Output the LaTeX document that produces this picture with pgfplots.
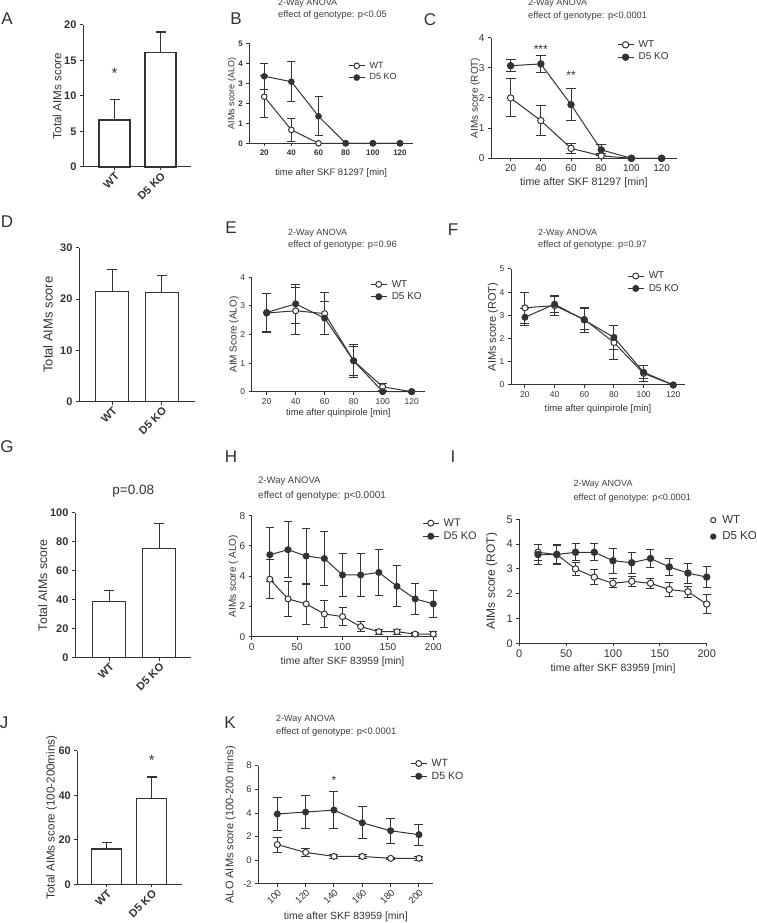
\documentclass[border=0pt]{standalone}
\usepackage{pgfplots}
\pgfplotsset{compat=1.18}
\usepackage{fontspec}
\setmainfont{Liberation Sans}
\definecolor{dk}{HTML}{333333}
\newcommand\fs[1]{\fontsize{#1}{#1}\selectfont}
\pgfplotsset{
  base/.style={scale only axis, anchor=south west, axis lines*=left, clip=false,
    axis line style={line width=1pt, draw=dk}, every tick/.style={line width=1pt, draw=dk},
    tick align=outside, major tick length=3pt, minor tick num=0,
    /pgf/number format/assume math mode=true,
    ylabel style={anchor=center}, xlabel style={anchor=center},
    legend style={draw=none, fill=none, inner sep=0pt, row sep=1pt, column sep=3pt, anchor=north west, nodes={inner sep=1.5pt}},
    legend cell align=left,
    legend image code/.code={\draw[mark repeat=2,mark phase=2,##1] plot coordinates {(0pt,0pt) (8pt,0pt) (16pt,0pt)};}},
  barax/.style={base, ymin=0, xtick={0,1}, xticklabels={WT, D5 KO},
    xticklabel style={rotate=45, anchor=north east, inner sep=1pt, font=\bfseries\fs{11}},
    yticklabel style={font=\bfseries\fs{11}}},
  bars/.style={ybar, bar width=#1, fill=white, draw=dk, line width=1.3pt,
    error bars/.cd, y dir=plus, y explicit, error bar style={line width=1.3pt, draw=dk}, error mark options={rotate=90, line width=1.3pt, draw=dk, mark size=5pt}},
  wt/.style={draw=dk, line width=1pt, mark=*, mark size=#1, mark options={fill=white, draw=dk, solid, line width=1pt}},
  wt/.default=3pt,
  ko/.style={draw=dk, line width=1pt, mark=*, mark size=#1, mark options={fill=dk, draw=dk, solid, line width=1pt}},
  ko/.default=3pt,
  eb/.style={forget plot, draw=none, mark=none, error bars/.cd, y dir=both, y explicit,
    error bar style={line width=1pt, draw=dk}, error mark options={rotate=90, line width=1pt, draw=dk, mark size=#1}},
  eb/.default=4pt,
}
\begin{document}
\color{dk}
\begin{tikzpicture}[x=1pt,y=1pt]
\path[use as bounding box] (0,0) rectangle (757,923);

% ---------- A ----------
\begin{axis}[barax, at={(83pt,756pt)}, width=108pt, height=142pt, xmin=-0.685, xmax=1.663, ymax=20, ytick={0,5,...,20},
  ylabel={Total AIMs score}, ylabel style={at={(axis description cs:-0.24,0.5)}, font=\fs{11.7}}]
\addplot[bars=31pt] coordinates {(0,6.6) +- (0,2.9) (1,16.1) +- (0,2.9)};
\node[font=\fs{15}] at (axis cs:0,13.2) {*};
\end{axis}

% ---------- B ----------
\begin{axis}[base, at={(249.3pt,779.7pt)}, width=163.7pt, height=100pt, xmin=9, xmax=129.6, ymin=0, ymax=5,
  xtick={20,40,...,120}, ytick={0,1,...,5}, tick label style={font=\bfseries\fs{8}},
  ylabel={AIMs score (ALO)}, xlabel={time after SKF 81297 [min]},
  ylabel style={at={(axis description cs:-0.105,0.5)}, font=\fs{9}},
  xlabel style={at={(axis description cs:0.5,-0.297)}, font=\fs{9.4}},
  legend style={at={(0.603,0.83)}, font=\fs{9}}]
\addplot[eb=4pt] table[row sep=\\, y error index=2] {20 2.33 1.05\\ 40 0.67 0.57\\};
\addplot[wt=2.8pt] table[row sep=\\] {20 2.33\\ 40 0.67\\ 60 0\\ 80 0\\ 100 0\\ 120 0\\};
\addlegendentry{WT}
\addplot[eb=4pt] table[row sep=\\, y error index=2] {20 3.35 0.65\\ 40 3.08 1.0\\ 60 1.35 0.97\\};
\addplot[ko=2.8pt] table[row sep=\\] {20 3.35\\ 40 3.08\\ 60 1.35\\ 80 0\\ 100 0\\ 120 0\\};
\addlegendentry{D5 KO}
\end{axis}

% ---------- C ----------
\begin{axis}[base, at={(491pt,764.7pt)}, width=185.7pt, height=120.6pt, xmin=7, xmax=130, ymin=0, ymax=4,
  xtick={20,40,...,120}, ytick={0,1,...,4}, tick label style={font=\fs{10}},
  ylabel={AIMs score (ROT)}, xlabel={time after SKF 81297 [min]},
  ylabel style={at={(axis description cs:-0.085,0.5)}, font=\fs{10}},
  xlabel style={at={(axis description cs:0.5,-0.205)}, font=\fs{10.7}},
  legend style={at={(0.678,0.99)}, font=\fs{10}}]
\addplot[eb=5pt] table[row sep=\\, y error index=2] {20 2.0 0.63\\ 40 1.25 0.5\\ 60 0.33 0.17\\ 80 0.08 0.08\\};
\addplot[wt=3.2pt] table[row sep=\\] {20 2.0\\ 40 1.25\\ 60 0.33\\ 80 0.08\\ 100 0\\ 120 0\\};
\addlegendentry{WT}
\addplot[eb=5pt] table[row sep=\\, y error index=2] {20 3.07 0.2\\ 40 3.13 0.28\\ 60 1.78 0.53\\ 80 0.28 0.18\\};
\addplot[ko=3.2pt] table[row sep=\\] {20 3.07\\ 40 3.13\\ 60 1.78\\ 80 0.28\\ 100 0\\ 120 0\\};
\addlegendentry{D5 KO}
\node[font=\fs{12}] at (axis cs:40,3.62) {***};
\node[font=\fs{12}] at (axis cs:60,2.75) {**};
\end{axis}

% ---------- D ----------
\begin{axis}[barax, at={(79pt,521.3pt)}, width=116pt, height=154pt, xmin=-0.674, xmax=1.674, ymax=30, ytick={0,10,20,30},
  ylabel={Total AIMs score}, ylabel style={at={(axis description cs:-0.267,0.5)}, font=\fs{13}}]
\addplot[bars=33pt] coordinates {(0,21.4) +- (0,4.4) (1,21.3) +- (0,3.3)};
\end{axis}

% ---------- E ----------
\begin{axis}[base, at={(251.7pt,531.3pt)}, width=173.3pt, height=114.4pt, xmin=9.7, xmax=129.2, ymin=0, ymax=4,
  xtick={20,40,...,120}, ytick={0,1,...,4}, tick label style={font=\fs{8.5}},
  ylabel={AIM Score (ALO)}, xlabel={time after quinpirole [min]},
  ylabel style={at={(axis description cs:-0.102,0.5)}, font=\fs{10}},
  xlabel style={at={(axis description cs:0.5,-0.186)}, font=\fs{9.3}},
  legend style={at={(0.683,0.99)}, font=\fs{10}}]
\addplot[eb=4.5pt] table[row sep=\\, y error index=2] {20 2.75 0.68\\ 40 2.83 0.82\\ 60 2.73 0.73\\ 80 1.08 0.5\\ 100 0.17 0.12\\};
\addplot[wt=3pt] table[row sep=\\] {20 2.75\\ 40 2.83\\ 60 2.73\\ 80 1.08\\ 100 0.17\\ 120 0\\};
\addlegendentry{WT}
\addplot[eb=4.5pt] table[row sep=\\, y error index=2] {20 2.77 0.68\\ 40 3.07 0.67\\ 60 2.57 0.57\\ 80 1.08 0.57\\};
\addplot[ko=3pt] table[row sep=\\] {20 2.77\\ 40 3.07\\ 60 2.57\\ 80 1.08\\ 100 0\\ 120 0\\};
\addlegendentry{D5 KO}
\end{axis}

% ---------- F ----------
\begin{axis}[base, at={(511pt,538pt)}, width=174pt, height=116pt, xmin=10.6, xmax=127.9, ymin=0, ymax=5,
  xtick={20,40,...,120}, ytick={0,1,...,5}, tick label style={font=\fs{8.5}},
  ylabel={AIMs score (ROT)}, xlabel={time after quinpirole [min]},
  ylabel style={at={(axis description cs:-0.103,0.5)}, font=\fs{11}},
  xlabel style={at={(axis description cs:0.5,-0.207)}, font=\fs{9.5}},
  legend style={at={(0.667,0.99)}, font=\fs{10}}]
\addplot[eb=4.5pt] table[row sep=\\, y error index=2] {20 3.33 0.67\\ 40 3.42 0.42\\ 60 2.83 0.45\\ 80 1.83 0.73\\ 100 0.5 0.33\\};
\addplot[wt=3pt] table[row sep=\\] {20 3.33\\ 40 3.42\\ 60 2.83\\ 80 1.83\\ 100 0.5\\ 120 0\\};
\addlegendentry{WT}
\addplot[eb=4.5pt] table[row sep=\\, y error index=2] {20 2.92 0.37\\ 40 3.48 0.34\\ 60 2.8 0.55\\ 80 2.05 0.52\\ 100 0.55 0.28\\};
\addplot[ko=3pt] table[row sep=\\] {20 2.92\\ 40 3.48\\ 60 2.8\\ 80 2.05\\ 100 0.55\\ 120 0\\};
\addlegendentry{D5 KO}
\end{axis}

% ---------- G ----------
\begin{axis}[barax, at={(75pt,265.3pt)}, width=116pt, height=145pt, xmin=-0.687, xmax=1.637, ymax=100, ytick={0,20,...,100},
  ylabel={Total AIMs score}, ylabel style={at={(axis description cs:-0.278,0.5)}, font=\fs{12.4}}]
\addplot[bars=33pt] coordinates {(0,38.6) +- (0,7.6) (1,75.4) +- (0,17.3)};
\end{axis}

% ---------- H ----------
\begin{axis}[base, at={(251.7pt,286.3pt)}, width=181.6pt, height=121pt, xmin=0, xmax=200, ymin=0, ymax=8,
  xtick={0,50,...,200}, ytick={0,2,...,8}, tick label style={font=\fs{10}},
  ylabel={AIMs score ( ALO)}, xlabel={time after SKF 83959 [min]},
  ylabel style={at={(axis description cs:-0.101,0.5)}, font=\fs{10}},
  xlabel style={at={(axis description cs:0.5,-0.207)}, font=\fs{10.4}},
  legend style={at={(0.938,0.99)}, font=\fs{11}}]
\addplot[eb=4pt] table[row sep=\\, y error index=2] {20 3.8 1.3\\ 40 2.5 1.17\\ 60 2.17 1.35\\ 80 1.5 0.92\\ 100 1.33 0.6\\ 120 0.67 0.33\\ 140 0.33 0.17\\ 160 0.33 0.17\\ 180 0.17 0.08\\ 200 0.17 0.17\\};
\addplot[wt=3pt] table[row sep=\\] {20 3.8\\ 40 2.5\\ 60 2.17\\ 80 1.5\\ 100 1.33\\ 120 0.67\\ 140 0.33\\ 160 0.33\\ 180 0.17\\ 200 0.17\\};
\addlegendentry{WT}
\addplot[eb=4pt] table[row sep=\\, y error index=2] {20 5.42 1.8\\ 40 5.75 1.85\\ 60 5.33 1.85\\ 80 5.17 1.77\\ 100 4.08 1.42\\ 120 4.08 1.42\\ 140 4.25 1.53\\ 160 3.33 1.35\\ 180 2.5 1.05\\ 200 2.17 0.9\\};
\addplot[ko=3pt] table[row sep=\\] {20 5.42\\ 40 5.75\\ 60 5.33\\ 80 5.17\\ 100 4.08\\ 120 4.08\\ 140 4.25\\ 160 3.33\\ 180 2.5\\ 200 2.17\\};
\addlegendentry{D5 KO}
\end{axis}

% ---------- I ----------
\begin{axis}[base, at={(519.3pt,279.7pt)}, width=187.4pt, height=124pt, xmin=0, xmax=200, ymin=0, ymax=5,
  xtick={0,50,...,200}, ytick={0,1,...,5}, tick label style={font=\fs{11}},
  ylabel={AIMs score (ROT)}, xlabel={time after SKF 83959 [min]},
  ylabel style={at={(axis description cs:-0.147,0.5)}, font=\fs{12}},
  xlabel style={at={(axis description cs:0.5,-0.202)}, font=\fs{10.5}},
  legend style={at={(1.02,1.045)}, font=\fs{11.5}, column sep=5pt, row sep=4pt}]
\addplot[eb=4pt] table[row sep=\\, y error index=2] {20 3.67 0.33\\ 40 3.58 0.35\\ 60 3.0 0.27\\ 80 2.67 0.3\\ 100 2.42 0.18\\ 120 2.5 0.2\\ 140 2.42 0.2\\ 160 2.17 0.3\\ 180 2.08 0.22\\ 200 1.58 0.37\\};
\addplot[wt=3.2pt, forget plot] table[row sep=\\] {20 3.67\\ 40 3.58\\ 60 3.0\\ 80 2.67\\ 100 2.42\\ 120 2.5\\ 140 2.42\\ 160 2.17\\ 180 2.08\\ 200 1.58\\};
\addplot[eb=4pt] table[row sep=\\, y error index=2] {20 3.58 0.42\\ 40 3.58 0.42\\ 60 3.67 0.35\\ 80 3.67 0.35\\ 100 3.33 0.5\\ 120 3.25 0.43\\ 140 3.42 0.38\\ 160 3.08 0.33\\ 180 2.83 0.4\\ 200 2.67 0.42\\};
\addplot[ko=3.2pt, forget plot] table[row sep=\\] {20 3.58\\ 40 3.58\\ 60 3.67\\ 80 3.67\\ 100 3.33\\ 120 3.25\\ 140 3.42\\ 160 3.08\\ 180 2.83\\ 200 2.67\\};
\addlegendimage{only marks, mark=*, mark size=2.6pt, mark options={fill=white, draw=dk, line width=1pt}}
\addlegendentry{WT}
\addlegendimage{only marks, mark=*, mark size=2.6pt, mark options={fill=dk, draw=dk, line width=1pt}}
\addlegendentry{D5 KO}
\end{axis}

% ---------- J ----------
\begin{axis}[barax, at={(77.3pt,38.7pt)}, width=104.4pt, height=133.6pt, xmin=-0.653, xmax=1.667, ymax=60, ytick={0,20,40,60},
  ylabel={Total AIMs score (100-200mins)}, ylabel style={at={(axis description cs:-0.245,0.5)}, font=\fs{11.6}}]
\addplot[bars=30pt] coordinates {(0,15.9) +- (0,2.8) (1,38.6) +- (0,9.6)};
\node[font=\fs{15}] at (axis cs:1,55.5) {*};
\end{axis}

% ---------- K ----------
\begin{axis}[base, at={(258.3pt,39pt)}, width=175pt, height=118.3pt, xmin=86.6, xmax=210.1, ymin=-2, ymax=8,
  xtick={100,120,...,200}, ytick={-2,0,...,8}, tick label style={font=\fs{9.5}},
  xticklabel style={rotate=45, anchor=north east, inner sep=1pt},
  ylabel={ALO AIMs score (100-200 mins)}, xlabel={time after SKF 83959 [min]},
  ylabel style={at={(axis description cs:-0.158,0.5)}, font=\fs{11}},
  xlabel style={at={(axis description cs:0.5,-0.281)}, font=\fs{10.4}},
  legend style={at={(0.867,1.07)}, font=\fs{10.5}}]
\addplot[eb=4.5pt] table[row sep=\\, y error index=2] {100 1.33 0.63\\ 120 0.67 0.33\\ 140 0.33 0.17\\ 160 0.33 0.17\\ 180 0.17 0.08\\ 200 0.17 0.17\\};
\addplot[wt=3pt] table[row sep=\\] {100 1.33\\ 120 0.67\\ 140 0.33\\ 160 0.33\\ 180 0.17\\ 200 0.17\\};
\addlegendentry{WT}
\addplot[eb=4.5pt] table[row sep=\\, y error index=2] {100 3.92 1.42\\ 120 4.08 1.42\\ 140 4.25 1.53\\ 160 3.17 1.35\\ 180 2.5 1.05\\ 200 2.17 0.9\\};
\addplot[ko=3pt] table[row sep=\\] {100 3.92\\ 120 4.08\\ 140 4.25\\ 160 3.17\\ 180 2.5\\ 200 2.17\\};
\addlegendentry{D5 KO}
\node[font=\fs{12}] at (axis cs:140,6.8) {*};
\end{axis}

% ---------- panel letters ----------
\begin{scope}[font=\fs{17}]
\node at (7pt,904pt) {A};
\node at (236pt,904pt) {B};
\node at (430pt,903pt) {C};
\node at (7pt,701pt) {D};
\node at (231pt,695pt) {E};
\node at (453pt,693pt) {F};
\node at (7pt,476pt) {G};
\node at (231pt,466pt) {H};
\node at (453pt,466pt) {I};
\node at (4pt,200pt) {J};
\node at (230pt,200pt) {K};
\end{scope}

% ---------- titles ----------
\begin{scope}[inner sep=0pt, text=black!75]
\node[font=\fs{9}, anchor=west] at (278pt,919.5pt) {2-Way ANOVA};
\node[font=\fs{9.3}, anchor=west] at (278pt,907.5pt) {effect of genotype: p<0.05};
\node[font=\fs{9}, anchor=west] at (528pt,919.5pt) {2-Way ANOVA};
\node[font=\fs{9.3}, anchor=west] at (528pt,907pt) {effect of genotype: p<0.0001};
\node[font=\fs{9}, anchor=west] at (288pt,689.5pt) {2-Way ANOVA};
\node[font=\fs{9.3}, anchor=west] at (288pt,677.5pt) {effect of genotype: p=0.96};
\node[font=\fs{9}, anchor=west] at (538pt,690pt) {2-Way ANOVA};
\node[font=\fs{9.3}, anchor=west] at (538pt,677.5pt) {effect of genotype: p=0.97};
\node[font=\fs{9.5}, anchor=west] at (258pt,441.8pt) {2-Way ANOVA};
\node[font=\fs{10}, anchor=west] at (258pt,427pt) {effect of genotype: p<0.0001};
\node[font=\fs{9}, anchor=west] at (573.3pt,438.5pt) {2-Way ANOVA};
\node[font=\fs{9.2}, anchor=west] at (573.3pt,425pt) {effect of genotype: p<0.0001};
\node[font=\fs{9}, anchor=west] at (276pt,204.2pt) {2-Way ANOVA};
\node[font=\fs{9.4}, anchor=west] at (276pt,191pt) {effect of genotype: p<0.0001};
\end{scope}
\node[font=\fs{13.5}] at (133.3pt,432pt) {p=0.08};
\end{tikzpicture}
\end{document}
